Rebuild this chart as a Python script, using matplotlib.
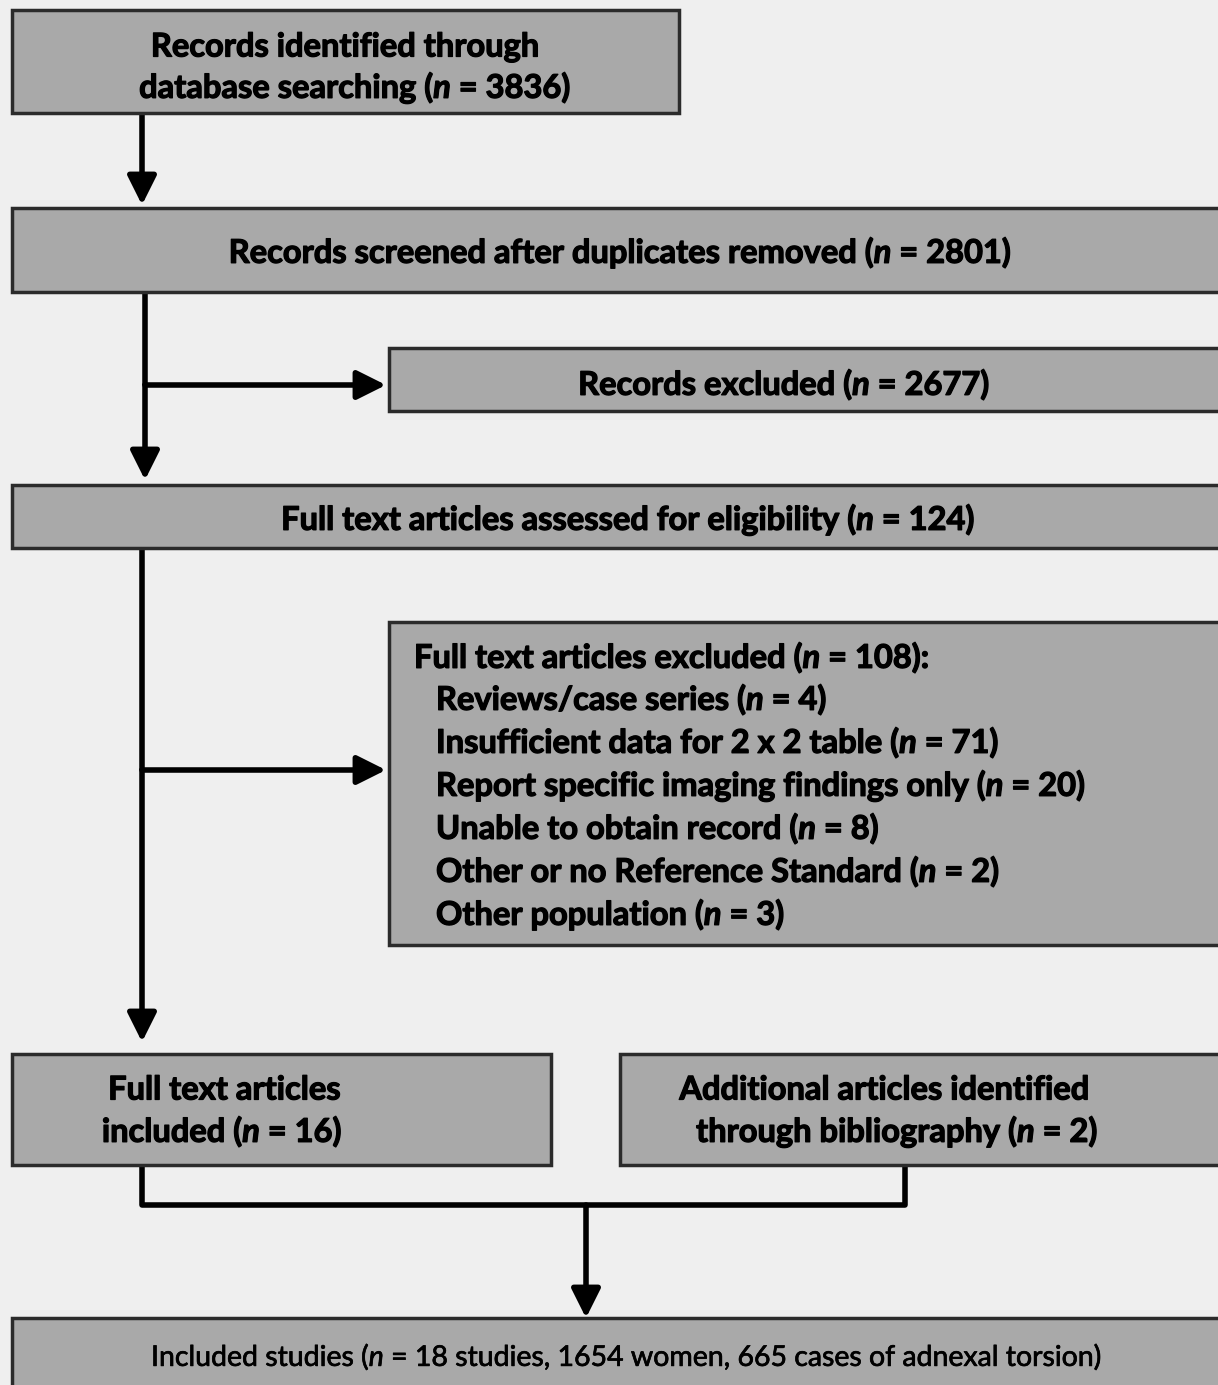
import matplotlib
matplotlib.use('Agg')
import matplotlib.pyplot as plt
import matplotlib.patheffects as pe
from matplotlib.patches import Rectangle

# flow counts
n_identified = 3836
n_screened = 2801
n_excluded = 2677
n_assessed = 124
n_ft_excluded = 108
exclusion_reasons = ['Reviews/case series', 'Insufficient data for 2 x 2 table',
                     'Report specific imaging findings only', 'Unable to obtain record',
                     'Other or no Reference Standard', 'Other population']
exclusion_counts = [4, 71, 20, 8, 2, 3]
n_ft_included = 16
n_bibliography = 2
n_studies = 18
n_women = 1654
n_torsion = 665

plt.rcParams['mathtext.fontset'] = 'custom'
plt.rcParams['mathtext.it'] = 'Lato:bold:italic'
plt.rcParams['mathtext.sf'] = 'Lato:italic'
plt.rcParams['font.family'] = 'Lato'

W, H = 1218, 1385
fig = plt.figure(figsize=(W / 100, H / 100), dpi=100)
fig.patch.set_facecolor('#efefef')
ax = fig.add_axes([0, 0, 1, 1])
ax.set_xlim(0, W)
ax.set_ylim(H, 0)
ax.axis('off')

FILL = '#a9a9a9'
EDGE = '#2b2b2b'
FS = 23.5


def box(x0, y0, x1, y1):
    ax.add_patch(Rectangle((x0, y0), x1 - x0, y1 - y0, facecolor=FILL,
                           edgecolor=EDGE, lw=2.5, zorder=2))


def line(xs, ys):
    ax.plot(xs, ys, color='black', lw=4, solid_capstyle='butt', zorder=1)


def arrow(x0, y0, x1, y1):
    ax.annotate('', xy=(x1, y1), xytext=(x0, y0),
                arrowprops=dict(arrowstyle='-|>,head_length=1.1,head_width=0.55',
                                mutation_scale=16, lw=4, color='black',
                                shrinkA=0, shrinkB=0), zorder=1)


def label(x, y, s, ha='center', weight='bold', size=FS, stroke=0.9):
    t = ax.text(x, y, s, ha=ha, va='center', fontsize=size, fontweight=weight, zorder=3)
    if stroke:
        t.set_path_effects([pe.withStroke(linewidth=stroke, foreground='black')])


# boxes
box(12, 10, 679, 113)
box(12, 208, 1230, 292)
box(389, 348, 1230, 411)
box(12, 485, 1230, 548)
box(389, 622, 1230, 945)
box(12, 1054, 551, 1165)
box(620, 1054, 1230, 1165)
box(12, 1318, 1230, 1400)

# connectors
arrow(142, 113, 142, 205)
line([145, 145], [292, 385])
arrow(145, 385, 145, 480)
arrow(145, 385, 386, 385)
line([142, 142], [548, 770])
arrow(142, 770, 142, 1042)
arrow(142, 770, 386, 770)
line([142, 142, 905, 905], [1165, 1205, 1205, 1165])
arrow(586, 1205, 586, 1318)

# texts
label(345, 47, 'Records identified through')
label(355, 88, f'database searching ($n$ = {n_identified})')
label(620, 253, f'Records screened after duplicates removed ($n$ = {n_screened})')
label(784, 385, f'Records excluded ($n$ = {n_excluded})')
label(628, 520, f'Full text articles assessed for eligibility ($n$ = {n_assessed})')
label(414, 658, f'Full text articles excluded ($n$ = {n_ft_excluded}):', ha='left')
for i, (r, c) in enumerate(zip(exclusion_reasons, exclusion_counts)):
    label(436, 700 + i * 43, f'{r} ($n$ = {c})', ha='left')
label(224, 1090, 'Full text articles')
label(222, 1132, f'included ($n$ = {n_ft_included})')
label(884, 1090, 'Additional articles identified')
label(897, 1132, f'through bibliography ($n$ = {n_bibliography})')
label(627, 1357, f'Included studies ($\\mathsf{{n}}$ = {n_studies} studies, {n_women} women, '
      f'{n_torsion} cases of adnexal torsion)', weight='normal', size=20.5, stroke=0.5)

fig.savefig('out.png', dpi=100, facecolor=fig.get_facecolor())
